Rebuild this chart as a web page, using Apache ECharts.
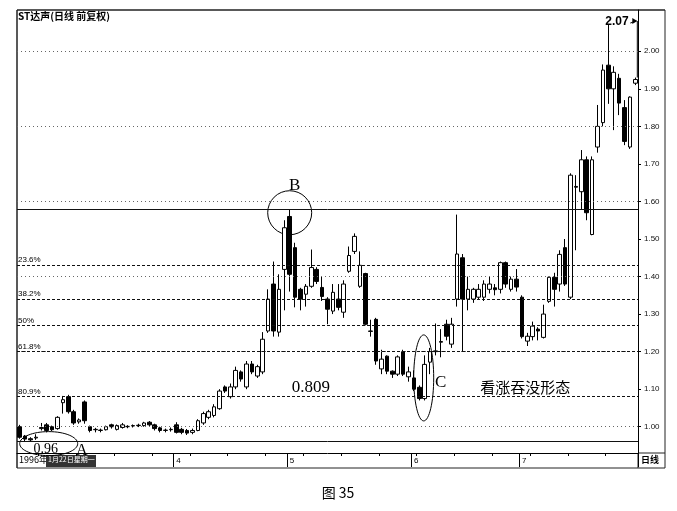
<!DOCTYPE html>
<html><head><meta charset="utf-8">
<script src="https://cdn.jsdelivr.net/npm/echarts@6/dist/echarts.min.js"></script>
<style>html,body{margin:0;padding:0;background:#fff}#c{width:677px;height:511px}</style>
</head><body><div id="c"></div>
<script>
const chartTitle = 'ST达声(日线 前复权)';
const caption = '图 35';
// each candle: [open, close, low, high]
const candles = [
[1.000,0.972,0.968,1.005],[0.975,0.967,0.960,0.978],[0.968,0.965,0.962,0.972],[0.970,0.972,0.965,0.980],
[0.995,0.998,0.990,1.010],[1.005,0.990,0.985,1.010],[1.000,0.992,0.988,1.003],[0.995,1.025,0.992,1.028],
[1.064,1.072,1.035,1.082],[1.080,1.040,1.035,1.085],[1.040,1.010,1.005,1.045],[1.013,1.018,1.008,1.022],
[1.066,1.016,1.008,1.070],[1.000,0.990,0.985,1.003],[0.992,0.993,0.985,0.997],[0.990,0.991,0.985,0.995],
[0.992,1.000,0.990,1.003],[1.005,1.000,0.995,1.008],[0.993,1.003,0.990,1.006],[0.998,1.005,0.995,1.010],
[1.000,1.001,0.996,1.004],[1.002,1.003,0.998,1.006],[1.003,1.004,0.999,1.008],[1.003,1.010,1.000,1.013],
[1.012,1.005,1.002,1.015],[1.005,0.995,0.990,1.008],[0.997,0.990,0.985,1.000],[0.990,0.991,0.985,0.995],
[0.992,0.993,0.987,0.998],[1.005,0.985,0.982,1.012],[0.993,0.985,0.980,0.997],[0.990,0.983,0.978,0.994],
[0.985,0.990,0.980,0.995],[0.990,1.016,0.988,1.020],[1.010,1.035,1.005,1.040],[1.025,1.040,1.020,1.045],
[1.030,1.053,1.025,1.060],[1.048,1.095,1.045,1.100],[1.106,1.095,1.090,1.110],[1.080,1.106,1.075,1.115],
[1.106,1.150,1.100,1.160],[1.146,1.127,1.120,1.150],[1.106,1.167,1.100,1.175],[1.167,1.146,1.140,1.175],
[1.135,1.160,1.130,1.165],[1.146,1.233,1.140,1.252],[1.255,1.340,1.250,1.366],[1.380,1.255,1.240,1.440],
[1.252,1.366,1.240,1.406],[1.419,1.530,1.310,1.550],[1.560,1.406,1.360,1.578],[1.477,1.345,1.318,1.490],
[1.366,1.340,1.310,1.370],[1.353,1.374,1.320,1.380],[1.374,1.424,1.370,1.472],[1.419,1.387,1.380,1.425],
[1.371,1.347,1.335,1.400],[1.340,1.313,1.273,1.345],[1.308,1.358,1.300,1.380],[1.340,1.318,1.310,1.380],
[1.305,1.380,1.290,1.390],[1.414,1.456,1.410,1.480],[1.467,1.507,1.460,1.515],[1.374,1.430,1.370,1.467],
[1.408,1.273,1.270,1.410],[1.255,1.254,1.240,1.285],[1.286,1.175,1.165,1.290],[1.154,1.180,1.140,1.205],
[1.188,1.148,1.140,1.190],[1.148,1.140,1.130,1.150],[1.140,1.186,1.135,1.190],[1.200,1.140,1.135,1.205],
[1.133,1.146,1.120,1.160],[1.130,1.100,1.095,1.150],[1.105,1.075,1.070,1.110],[1.075,1.166,1.070,1.190],
[1.172,1.200,1.140,1.210],[1.200,1.202,1.190,1.275],[1.225,1.227,1.185,1.260],[1.273,1.241,1.230,1.285],
[1.220,1.273,1.210,1.290],[1.340,1.460,1.320,1.565],[1.450,1.340,1.200,1.460],[1.340,1.366,1.310,1.400],
[1.340,1.366,1.330,1.370],[1.345,1.366,1.340,1.380],[1.345,1.380,1.335,1.390],[1.366,1.380,1.355,1.400],
[1.370,1.365,1.350,1.380],[1.366,1.437,1.355,1.440],[1.437,1.380,1.370,1.440],[1.366,1.393,1.360,1.400],
[1.393,1.372,1.360,1.420],[1.345,1.240,1.235,1.350],[1.228,1.241,1.215,1.250],[1.240,1.268,1.230,1.280],
[1.260,1.255,1.230,1.265],[1.238,1.300,1.235,1.325],[1.334,1.398,1.330,1.400],[1.398,1.366,1.320,1.410],
[1.380,1.459,1.360,1.470],[1.477,1.380,1.375,1.500],[1.345,1.670,1.340,1.675],[1.640,1.638,1.470,1.670],
[1.626,1.711,1.580,1.737],[1.711,1.570,1.550,1.720],[1.512,1.711,1.510,1.720],[1.745,1.800,1.730,1.857],
[1.810,1.950,1.800,1.965],[1.963,1.900,1.860,2.070],[1.900,1.944,1.790,1.960],[1.928,1.862,1.830,1.940],
[1.850,1.760,1.750,1.870],[1.745,1.878,1.740,1.880],[1.915,1.925,1.910,1.930]
];
const days = candles.map((c, i) => String(i));
const monthStarts = [29, 50, 73, 93];
const monthLabels = ['4', '5', '6', '7'];
const yTicks = [1.00, 1.10, 1.20, 1.30, 1.40, 1.50, 1.60, 1.70, 1.80, 1.90, 2.00];
const gridLevels = [1.00, 1.20, 1.40, 1.60, 1.80, 2.00];
const fibLevels = [1.431, 1.343, 1.268, 1.197, 1.077];
const fibLabels = ['23.6%', '38.2%', '50%', '61.8%', '80.9%'];
const highLevel = 1.578;
const lowLevel = 0.96;
const peakValue = 2.07;

const chart = echarts.init(document.getElementById('c'), null, {renderer: 'canvas'});

const markData = [];
gridLevels.forEach(v => markData.push({yAxis: v, lineStyle: {type: [1, 3], color: '#666', width: 1}, label: {show: false}}));
fibLevels.forEach((v, k) => markData.push({yAxis: v, lineStyle: {type: [3, 2], color: '#111', width: 1},
  label: {show: true, position: 'insideStartTop', formatter: fibLabels[k], fontSize: 8, color: '#000', distance: [1, 1], fontFamily: 'Liberation Sans'}}));
[highLevel, lowLevel].forEach(v => markData.push({yAxis: v, lineStyle: {type: 'solid', color: '#111', width: 1}, label: {show: false}}));

const isMonth = (i) => monthStarts.indexOf(i) >= 0;

chart.setOption({
  animation: false,
  backgroundColor: '#fff',
  grid: {left: 17, right: 39, top: 10, bottom: 58},
  xAxis: [{
    type: 'category', data: days, boundaryGap: true,
    axisLine: {show: true, lineStyle: {color: '#000', width: 1}},
    axisTick: {show: true, interval: (i) => i % 7 === 4, length: 3, lineStyle: {color: '#000'}},
    axisLabel: {show: false}, splitLine: {show: false}
  }, {
    type: 'category', data: days, boundaryGap: true, position: 'bottom',
    axisLine: {show: false},
    axisTick: {show: true, interval: (i) => isMonth(i), length: 14, lineStyle: {color: '#000'}},
    axisLabel: {show: true, interval: (i) => isMonth(i), formatter: (v, i) => monthLabels[monthStarts.indexOf(i)] || '',
      align: 'left', margin: 4, fontSize: 8, color: '#000', fontFamily: 'Liberation Sans'},
    splitLine: {show: false}
  }],
  yAxis: {
    type: 'value', position: 'right', min: 0.93, max: 2.11, scale: true,
    axisLine: {show: true, lineStyle: {color: '#000', width: 1}},
    axisTick: {show: true, customValues: yTicks, length: 3, lineStyle: {color: '#000'}},
    axisLabel: {show: true, customValues: yTicks, formatter: v => v.toFixed(2), fontSize: 8, color: '#111', margin: 6, fontFamily: 'Liberation Sans'},
    splitLine: {show: false}
  },
  series: [{
    type: 'candlestick', data: candles, xAxisIndex: 0, yAxisIndex: 0, barWidth: 4,
    itemStyle: {color: '#fff', color0: '#000', borderColor: '#000', borderColor0: '#000', borderWidth: 1},
    markLine: {symbol: 'none', silent: true, data: markData}
  }]
});

const P = (i, v) => chart.convertToPixel({xAxisIndex: 0, yAxisIndex: 0}, [i, v]);
const pB = P(50, highLevel);
const pC = P(75, 1.13);
const pA = P(5, 0.955);
const p809 = P(53, fibLevels[4]);
const pText = P(94, 1.12);
const pPeak = P(109, peakValue);
const pLast = P(candles.length - 1, candles[candles.length - 1][3]);
const serif = 'Liberation Serif';
chart.setOption({
  graphic: [
    {type: 'line', shape: {x1: 17, y1: 10, x2: 665, y2: 10}, style: {stroke: '#222', lineWidth: 1.5}},
    {type: 'line', shape: {x1: 17, y1: 10, x2: 17, y2: 468}, style: {stroke: '#222', lineWidth: 1.5}},
    {type: 'line', shape: {x1: 665, y1: 10, x2: 665, y2: 468}, style: {stroke: '#222', lineWidth: 1}},
    {type: 'line', shape: {x1: 638, y1: 453, x2: 638, y2: 468}, style: {stroke: '#222', lineWidth: 1}},
    {type: 'line', shape: {x1: 17, y1: 468, x2: 665, y2: 468}, style: {stroke: '#222', lineWidth: 1}},
    {type: 'line', shape: {x1: 638, y1: 453, x2: 665, y2: 453}, style: {stroke: '#222', lineWidth: 1}},
    {type: 'text', left: 641, top: 455, style: {text: '日线', fontSize: 9, fontWeight: 'bold', fill: '#000', fontFamily: 'Noto Sans CJK SC'}},
    {type: 'text', left: 19, top: 455, style: {text: '1996年', fontSize: 9, fill: '#000', fontFamily: 'Noto Sans CJK SC'}},
    {type: 'rect', shape: {x: 46, y: 455, width: 50, height: 12}, style: {fill: '#333'}},
    {type: 'text', left: 48, top: 456, style: {text: '1月22日星期一', fontSize: 7, fill: '#fff', fontFamily: 'Noto Sans CJK SC'}},
    {type: 'text', left: 18, top: 11, style: {text: chartTitle, fontSize: 10, fontWeight: 'bold', fill: '#000', fontFamily: 'Noto Sans CJK SC'}},
    {type: 'circle', shape: {cx: pB[0], cy: pB[1] + 3, r: 22}, style: {fill: 'none', stroke: '#000', lineWidth: 1}},
    {type: 'text', x: pB[0] + 5, y: pB[1] - 24, style: {text: 'B', fontSize: 17, fill: '#000', fontFamily: serif, align: 'center', verticalAlign: 'middle'}},
    {type: 'ellipse', shape: {cx: pC[0] - 1, cy: pC[1], rx: 10, ry: 43}, style: {fill: 'none', stroke: '#000', lineWidth: 1}},
    {type: 'text', x: pC[0] + 16, y: pC[1] + 5, style: {text: 'C', fontSize: 17, fill: '#000', fontFamily: serif, align: 'center', verticalAlign: 'middle'}},
    {type: 'ellipse', shape: {cx: pA[0] + 2, cy: pA[1], rx: 29, ry: 12}, style: {fill: 'none', stroke: '#000', lineWidth: 1}},
    {type: 'text', x: pA[0] - 1, y: pA[1] + 6, style: {text: '0.96', fontSize: 14, fill: '#000', fontFamily: serif, align: 'center', verticalAlign: 'middle'}},
    {type: 'text', x: pA[0] + 35, y: pA[1] + 7, style: {text: 'A', fontSize: 16, fill: '#000', fontFamily: serif, align: 'center', verticalAlign: 'middle'}},
    {type: 'text', x: p809[0] + 5, y: p809[1] - 10, style: {text: '0.809', fontSize: 17, fill: '#000', fontFamily: serif, align: 'center', verticalAlign: 'middle'}},
    {type: 'text', x: pText[0] - 2, y: pText[1] + 6, style: {text: '看涨吞没形态', fontSize: 15, fill: '#000', fontFamily: 'Noto Sans CJK SC', align: 'center', verticalAlign: 'middle'}},
    {type: 'text', x: pPeak[0] - 3, y: pPeak[1] - 3, style: {text: '2.07', fontSize: 12, fontWeight: 'bold', fill: '#000', fontFamily: 'Liberation Sans', align: 'left', verticalAlign: 'middle'}},
    {type: 'polyline', shape: {points: [[pPeak[0] + 22, pPeak[1] - 2], [pLast[0] + 1, pPeak[1] - 4]]}, style: {stroke: '#000', lineWidth: 1, fill: 'none'}},
    {type: 'polygon', shape: {points: [[pLast[0] + 2, pPeak[1] - 4], [pLast[0] - 3, pPeak[1] - 7], [pLast[0] - 3, pPeak[1] - 1]]}, style: {fill: '#000'}},
    {type: 'line', shape: {x1: pLast[0] + 2, y1: pPeak[1] - 4, x2: pLast[0] + 2, y2: pLast[1]}, style: {stroke: '#000', lineWidth: 1}},
    {type: 'text', x: 338, y: 493, style: {text: caption, fontSize: 14, fill: '#000', fontFamily: 'Noto Sans CJK SC', align: 'center', verticalAlign: 'middle'}}
  ]
});
</script>
</body></html>
